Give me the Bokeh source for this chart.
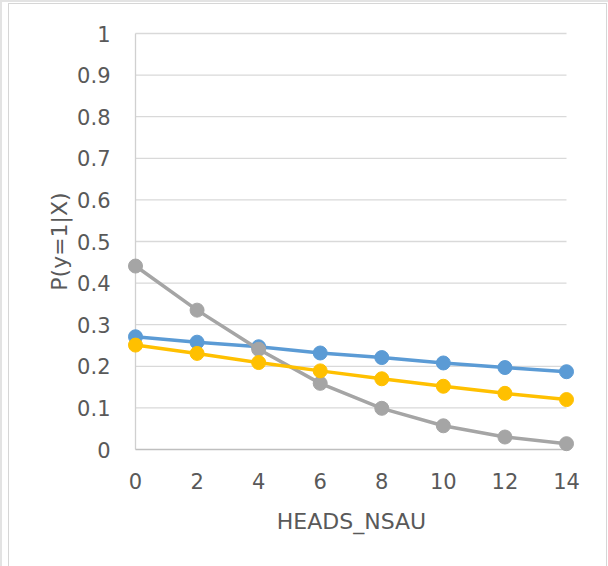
from bokeh.plotting import figure
from bokeh.models import Range1d, FixedTicker
from bokeh.embed import file_html
from bokeh.resources import INLINE

# Predicted probability by HEADS_NSAU for three model variants
heads_nsau = [0, 2, 4, 6, 8, 10, 12, 14]
p_blue = [0.271, 0.258, 0.247, 0.232, 0.221, 0.208, 0.197, 0.187]
p_gray = [0.441, 0.335, 0.241, 0.159, 0.099, 0.057, 0.030, 0.014]
p_yellow = [0.251, 0.231, 0.209, 0.189, 0.170, 0.152, 0.135, 0.120]

x_ticks = [0, 2, 4, 6, 8, 10, 12, 14]
y_ticks = [0, 0.1, 0.2, 0.3, 0.4, 0.5, 0.6, 0.7, 0.8, 0.9, 1.0]
y_tick_labels = ["0", "0.1", "0.2", "0.3", "0.4", "0.5", "0.6", "0.7", "0.8", "0.9", "1"]

FONT = "DejaVu Sans"
TEXT = "#595959"

W, H = 608, 566
# pixel anchors of the axis extremes and the (slightly wider) frame
x0_px, x1_px = 135, 566
y0_px, y1_px = 449, 33
f_left, f_right, f_top, f_bottom = 125, 577, 24, 458

xs = (x1_px - x0_px) / (x_ticks[-1] - x_ticks[0])
ys = (y0_px - y1_px) / (y_ticks[-1] - y_ticks[0])
x_range = Range1d(x_ticks[0] - (x0_px - f_left) / xs, x_ticks[-1] + (f_right - x1_px) / xs)
y_range = Range1d(y_ticks[0] - (f_bottom - y0_px) / ys, y_ticks[-1] + (y1_px - f_top) / ys)

# chart-area border lines, painted as CSS backgrounds behind a transparent border fill
g1 = "linear-gradient(#E3E3E3,#E3E3E3)"
g2 = "linear-gradient(#D6D6D6,#D6D6D6)"
chart_styles = {
    "background-color": "white",
    "background-image": ", ".join([g1, g1, g2, g2, g2]),
    "background-position": "0px 0px, 0px 0px, 8px 3px, 8px 3px, 606px 3px",
    "background-size": "2px 100%, 100% 2px, 1px 100%, 599px 1px, 1px 100%",
    "background-repeat": "no-repeat",
}

p = figure(width=W, height=H, x_range=x_range, y_range=y_range,
           output_backend="svg", toolbar_location=None,
           min_border_left=f_left, min_border_right=W - f_right,
           min_border_top=f_top, min_border_bottom=H - f_bottom,
           styles=chart_styles)
p.outline_line_color = None
p.background_fill_color = "white"
p.border_fill_color = None
p.xgrid.visible = False
p.ygrid.visible = False

# horizontal gridlines spanning the category extent
p.segment(x0=x_ticks[0], x1=x_ticks[-1], y0=y_ticks[1:], y1=y_ticks[1:],
          line_color="#D9D9D9", line_width=1.3)
# axis lines through the origin
p.segment(x0=[x_ticks[0]], x1=[x_ticks[0]], y0=[y_ticks[0]], y1=[y_ticks[-1]],
          line_color="#D0D0D0", line_width=1.3)
p.segment(x0=[x_ticks[0]], x1=[x_ticks[-1]], y0=[y_ticks[0]], y1=[y_ticks[0]],
          line_color="#BFBFBF", line_width=1.3)

for ax in (p.xaxis[0], p.yaxis[0]):
    ax.axis_line_color = None
    ax.major_tick_line_color = None
    ax.minor_tick_line_color = None
    ax.major_label_text_font = FONT
    ax.major_label_text_font_size = "21px"
    ax.major_label_text_color = TEXT
    ax.axis_label_text_font = FONT
    ax.axis_label_text_font_size = "22px"
    ax.axis_label_text_font_style = "normal"
    ax.axis_label_text_color = TEXT

p.xaxis.ticker = FixedTicker(ticks=x_ticks)
p.xaxis.major_label_standoff = 8
p.xaxis.axis_label = "HEADS_NSAU"
p.xaxis.axis_label_standoff = 17

p.yaxis.ticker = FixedTicker(ticks=y_ticks)
p.yaxis.major_label_overrides = {t: s for t, s in zip(y_ticks, y_tick_labels)}
p.yaxis.major_label_standoff = 9
p.yaxis.axis_label = "P(y=1|X)"
p.yaxis.axis_label_standoff = 2

series = [(p_blue, "#5B9BD5"), (p_gray, "#A5A5A5"), (p_yellow, "#FFC000")]
for vals, col in series:
    p.line(heads_nsau, vals, line_color=col, line_width=3.5)
    p.scatter(heads_nsau, vals, size=14, fill_color=col, line_color=col)

open("out.html", "w").write(file_html(p, INLINE))
